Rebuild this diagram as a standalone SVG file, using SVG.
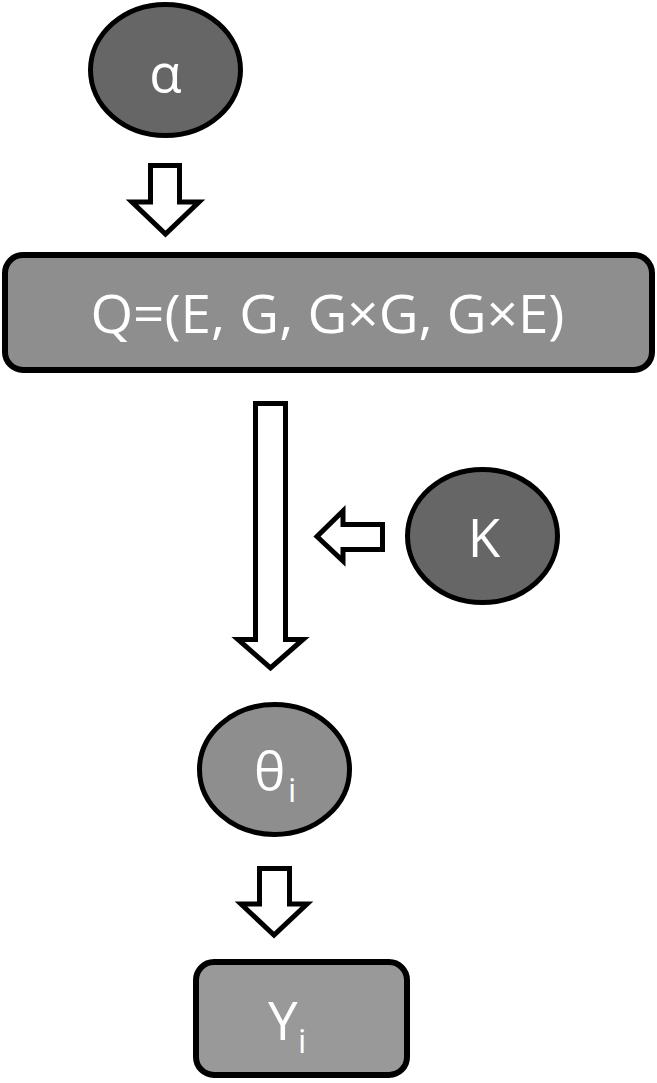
<svg xmlns="http://www.w3.org/2000/svg" width="657" height="1083" viewBox="0 0 657 1083">
<style>
.node{stroke:#000;stroke-width:5}
.dark{fill:#666666}
.mid{fill:#8e8e8e}
.light{fill:#999999}
.arrow{fill:#fff;stroke:#000;stroke-width:5;stroke-linejoin:miter}
.lbl{font-family:"Open Sans","Noto Sans","Liberation Sans",sans-serif;fill:#fff;font-size:53px}
.sub{font-family:"Open Sans","Noto Sans","Liberation Sans",sans-serif;fill:#fff;font-size:33px}
</style>
<rect width="657" height="1083" fill="#fff"/>
<g id="connectors">
<path class="arrow" d="M150.5 165.5 H179.5 V202 H199 L165.5 234 L132 202 H150.5 Z"/>
<path class="arrow" d="M255.5 403.5 H285.5 V639.5 H303 L270.5 668 L238 639.5 H255.5 Z"/>
<path class="arrow" d="M382.5 524.5 V549.5 H343 V561 L317 536.5 L343 511 V524.5 Z"/>
<path class="arrow" d="M259.5 868.5 H289.5 V904 H307 L274 935 L241 904 H259.5 Z"/>
</g>
<g id="alpha">
<ellipse class="node dark" cx="165.5" cy="70" rx="75" ry="65.5"/>
<text class="lbl" x="165.5" y="92" text-anchor="middle">α</text>
</g>
<g id="Q">
<rect class="node mid" x="5" y="255" width="647" height="115" rx="18" ry="18" style="stroke-width:6"/>
<text class="lbl" x="327.5" y="333" text-anchor="middle" textLength="474" lengthAdjust="spacingAndGlyphs">Q=(E, G, G×G, G×E)</text>
</g>
<g id="K">
<ellipse class="node dark" cx="482.5" cy="536" rx="75" ry="66.5"/>
<text class="lbl" x="484" y="557" text-anchor="middle">K</text>
</g>
<g id="theta">
<ellipse class="node mid" cx="274.5" cy="769.5" rx="75" ry="65"/>
<text class="lbl" x="254" y="790">θ</text>
<text class="sub" x="288" y="802">i</text>
</g>
<g id="Y">
<rect class="node light" x="196" y="962" width="211" height="113" rx="18" ry="18" style="stroke-width:6"/>
<text class="lbl" x="268" y="1040">Y</text>
<text class="sub" x="298" y="1053">i</text>
</g>
</svg>
